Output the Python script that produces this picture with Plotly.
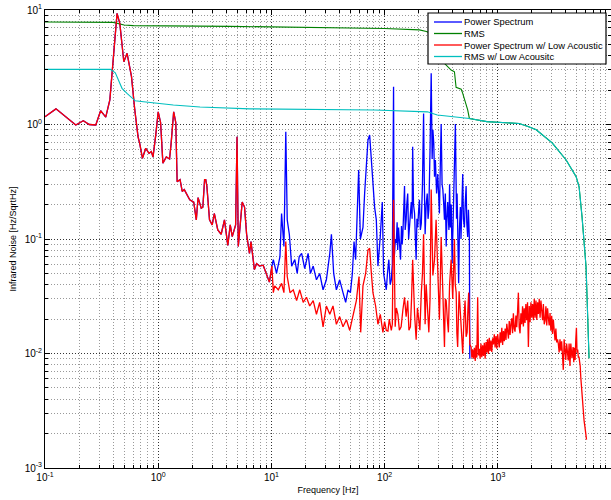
import plotly.graph_objects as go

# ---- data ----
# shared low-frequency part of both spectra (Hz, Hz/sqrtHz)
f_low = [0.1, 0.125, 0.187, 0.218, 0.246, 0.281, 0.31, 0.344, 0.374, 0.395, 0.433, 0.458,
         0.497, 0.531, 0.581, 0.621, 0.664, 0.687, 0.726, 0.776, 0.83, 0.87, 0.9, 0.95, 1.0,
         1.05, 1.10, 1.18, 1.26, 1.30, 1.37, 1.43, 1.47, 1.56, 1.63, 1.70, 1.77, 1.90, 2.06,
         2.17, 2.25, 2.40, 2.48, 2.57, 2.63, 2.69, 2.84, 3.0, 3.13, 3.36, 3.6, 3.85, 4.12,
         4.33, 4.51, 4.83, 4.97, 5.1, 5.52, 5.79, 6.04, 6.4, 6.6, 7.08, 7.4, 7.85, 8.46, 8.97,
         9.6, 10.1]
v_low = [1.17, 1.37, 0.99, 1.08, 1.0, 0.99, 1.32, 1.16, 1.64, 3.0, 9.35, 7.65,
         3.53, 4.19, 2.62, 1.34, 0.78, 0.68, 0.507, 0.62, 0.56, 0.58, 0.52, 0.8, 1.29,
         1.04, 0.46, 0.52, 0.5, 0.68, 1.29, 1.04, 0.316, 0.33, 0.26, 0.27, 0.25, 0.22, 0.21,
         0.147, 0.23, 0.186, 0.19, 0.33, 0.33, 0.29, 0.147, 0.133, 0.167, 0.12, 0.11, 0.147, 0.088,
         0.133, 0.105, 0.133, 0.78, 0.086, 0.21, 0.19, 0.11, 0.075, 0.095, 0.054, 0.061, 0.058, 0.059, 0.05,
         0.042, 0.058]

# Power Spectrum above 10 Hz
f_blue = [10.4, 11.1, 11.9, 12.3, 12.9, 13.1, 13.4, 13.8, 14.4, 15.1, 16.1, 16.9, 17.6, 18.5,
          19.7, 21.1, 22.1, 23.4, 25.0, 26.7, 28.6, 30.6, 32.8, 33.9, 35.5, 37.5, 40.1, 42.9,
          45.3, 47.5, 49.9, 51.9, 53.7, 55.5, 57.4, 59.0, 61.1, 64.4, 66.6, 69.0, 71.3, 73.8,
          76.4, 78.9, 81.6, 84.5, 87.3, 91.6, 95.4, 98.0,
          103.5, 106, 109, 112, 114.6, 117, 120, 121.5, 122.5, 124.5, 126.8, 129, 130.5, 132.8,
          135, 138.3, 141, 143, 145, 147, 150, 152, 155, 157, 160, 163, 166, 169, 172, 175, 177,
          180, 184, 187, 190, 193, 196, 200, 203, 207, 211, 216, 221, 224, 228, 233, 238, 242,
          246, 252, 258, 263, 267, 272, 276, 281, 288, 295, 300, 305, 310, 316, 322, 327, 333,
          338, 344, 350, 355, 361, 370, 375, 381, 388, 395, 401, 408, 415, 422, 428, 432, 437,
          444, 451, 458, 467, 473, 480, 490, 497, 507, 515, 525, 532, 542, 550, 561, 566]
v_blue = [0.066, 0.05, 0.07, 0.167, 0.086, 0.21, 0.865, 0.147, 0.11, 0.058, 0.066, 0.05, 0.07, 0.075,
          0.055, 0.075, 0.05, 0.058, 0.044, 0.05, 0.036, 0.044, 0.075, 0.11, 0.05, 0.036, 0.044, 0.034,
          0.028, 0.036, 0.034, 0.05, 0.095, 0.066, 0.155, 0.4, 0.1, 0.126, 0.25, 0.49, 0.73, 0.81,
          0.49, 0.29, 0.19, 0.147, 0.058, 0.105, 0.21, 0.05,
          0.036, 0.05, 0.066, 0.04, 0.044, 0.06, 2.14, 0.07, 0.075, 0.1, 0.092, 0.14, 0.08, 0.126,
          0.09, 0.066, 0.13, 0.09, 0.11, 0.2, 0.29, 0.12, 0.147, 0.2, 0.25, 0.1, 0.126, 0.19, 0.21, 0.15, 0.64,
          0.2, 0.167, 0.1, 0.066, 0.15, 0.126, 0.18, 0.22, 0.12, 0.137, 0.3, 1.25, 0.35, 0.11, 0.2, 0.25, 0.15,
          0.18, 0.6, 2.8, 0.5, 0.9, 0.68, 0.35, 0.49, 0.25, 0.37, 0.2, 0.167, 0.4, 1.01, 0.3, 0.27, 0.2,
          0.147, 0.25, 0.086, 0.15, 0.21, 0.12, 0.3, 0.126, 0.2, 0.061, 0.15, 0.25, 0.5, 1.01, 0.3, 0.15, 0.25,
          0.1, 0.041, 0.12, 0.19, 0.1, 0.25, 0.37, 0.15, 0.126, 0.2, 0.29, 0.14, 0.104, 0.18, 0.1, 0.009]

# Power Spectrum w/ Low Acoustic above 10 Hz
f_red = [10.4, 10.7, 11.5, 12.3, 12.9, 13.4, 13.8, 14.6, 15.6, 16.7, 17.8, 19.1, 20.4, 21.8,
         23.4, 25.0, 26.7, 28.6, 30.6, 32.8, 35.0, 37.5, 40.1, 42.9, 46.0, 49.2, 52.6, 56.3,
         59.4, 61.5, 64.4, 68.0, 71.3, 73.8, 76.4, 78.9, 83.3, 87.3, 91.6, 96.6,
         100, 103.5, 107, 110, 114.6, 117, 120, 124, 127, 131, 135, 140, 145, 150, 155, 160,
         164, 169, 173, 177, 184, 190, 195, 199, 205, 211, 216, 221, 228, 233, 238, 246, 252,
         258, 267, 276, 285, 295, 300, 305, 310, 316, 327, 338, 344, 350, 358, 366, 375, 387,
         400, 414, 421, 429, 435, 442, 455, 467, 478, 490, 502, 514, 525, 536, 545, 553, 566,
         581, 590, 600, 610, 621, 632, 642, 653, 664, 675, 687, 698, 710, 722, 735, 747, 760,
         773, 787, 800, 812, 826, 841, 855, 870, 885, 900, 915, 931, 947, 964, 980, 997, 1014,
         1031, 1049, 1066, 1085, 1103, 1122, 1141, 1161, 1181, 1201, 1221, 1242, 1262, 1284,
         1305, 1328, 1350, 1373, 1397, 1420, 1445, 1470, 1495, 1520, 1545, 1572, 1600, 1627,
         1655, 1683, 1711, 1740, 1770, 1800, 1831, 1863, 1895, 1928, 1962, 1996, 2030, 2064,
         2099, 2136, 2173, 2210, 2247, 2285, 2323, 2363, 2404, 2444, 2485, 2528, 2571, 2616,
         2661, 2706, 2751, 2798, 2845, 2894, 2943, 2993, 3043, 3095, 3148, 3203, 3258, 3313,
         3368, 3425, 3483, 3543, 3603, 3664, 3726, 3790, 3855, 3921, 3987, 4055, 4123, 4193,
         4265, 4340, 4416, 4520, 4624, 4690, 4750, 4820, 4885, 4950, 5010, 5080, 5149, 5215,
         5280, 5345, 5408, 5500, 5585, 5680, 5781, 5880, 5984, 6080, 6184, 6290, 6397]
v_red = [0.034, 0.039, 0.036, 0.041, 0.034, 0.095, 0.047, 0.034, 0.036, 0.029, 0.036, 0.028, 0.031, 0.026,
         0.029, 0.022, 0.028, 0.0171, 0.026, 0.022, 0.026, 0.018, 0.021, 0.0171, 0.0197, 0.0159, 0.022, 0.029,
         0.047, 0.0153, 0.039, 0.05, 0.08, 0.083, 0.05, 0.034, 0.026, 0.018, 0.022, 0.0153,
         0.019, 0.0159, 0.0157, 0.02, 0.0159, 0.018, 0.22, 0.0171, 0.025, 0.022, 0.016, 0.0171, 0.024, 0.031, 0.021, 0.029,
         0.016, 0.0171, 0.03, 0.066, 0.022, 0.0132, 0.025, 0.021, 0.016, 0.034, 0.05, 0.11, 0.018, 0.04, 0.029, 0.0153, 0.03,
         0.27, 0.048, 0.066, 0.147, 0.048, 0.025, 0.0197, 0.04, 0.104, 0.034, 0.0114, 0.03, 0.029, 0.02, 0.0153, 0.04, 0.066,
         0.03, 0.1, 0.04, 0.034, 0.015, 0.0114, 0.035, 0.022, 0.012, 0.01, 0.02, 0.029, 0.014, 0.0153, 0.025, 0.034, 0.012,
         0.0114, 0.0092, 0.0108, 0.009, 0.0112, 0.0086, 0.0118, 0.0092, 0.031, 0.0096, 0.011, 0.009, 0.0122, 0.0093, 0.0118, 0.0095, 0.0124,
         0.009, 0.0126, 0.0102, 0.0133, 0.0099, 0.0137, 0.0105, 0.013, 0.0103, 0.0136, 0.012, 0.0147, 0.0113, 0.0142, 0.011, 0.0148,
         0.0127, 0.0113, 0.0153, 0.0124, 0.0168, 0.0119, 0.0157, 0.0128, 0.0165, 0.0131, 0.0182, 0.014, 0.0135, 0.0192,
         0.0145, 0.0181, 0.0203, 0.015, 0.0225, 0.0165, 0.0155, 0.0215, 0.017, 0.0235, 0.034, 0.017, 0.015, 0.0225,
         0.018, 0.0258, 0.0172, 0.0248, 0.0185, 0.027, 0.0195, 0.028, 0.0114, 0.026, 0.0188, 0.028, 0.0205, 0.027,
         0.0195, 0.03, 0.0205, 0.029, 0.0196, 0.028, 0.0222, 0.03, 0.0205, 0.029, 0.0242, 0.0195, 0.027, 0.018,
         0.0195, 0.0258, 0.0176, 0.0248, 0.0204, 0.0176, 0.0226, 0.0158, 0.0213, 0.0148, 0.0198, 0.0148, 0.013, 0.0165,
         0.0125, 0.0133, 0.0122, 0.0102, 0.0133, 0.0106, 0.0128, 0.0097, 0.0072, 0.0133, 0.0102, 0.0088, 0.0122, 0.009,
         0.0087, 0.0122, 0.0078, 0.0122, 0.0091, 0.0114, 0.0084, 0.0112, 0.0088, 0.0132, 0.0168, 0.0102,
         0.0108, 0.0092, 0.0094, 0.0085, 0.0078, 0.0062, 0.0048, 0.0038, 0.003, 0.0026, 0.0023, 0.002, 0.00177]

# RMS curves
f_rms_green = [0.1, 0.4, 0.5, 0.6, 4.31, 17.8, 100, 203, 234, 250, 262, 300, 316, 338, 387, 414, 428,
               475, 490, 542]
v_rms_green = [7.85, 7.8, 7.4, 7.3, 7.2, 7.1, 6.9, 6.7, 6.5, 6.3, 4.5, 4.0, 3.6, 3.42, 2.99, 2.89, 2.11,
               2.03, 1.87, 1.34]
f_rms_cyan = [0.1, 0.378, 0.418, 0.479, 0.53, 0.627, 0.742, 1.36, 2.34, 6.5, 81.6, 239, 292, 542]
v_rms_cyan = [3.03, 3.03, 2.83, 2.07, 1.87, 1.61, 1.58, 1.48, 1.42, 1.37, 1.34, 1.29, 1.21, 1.14]
# shared tail of both RMS curves (identical spectra above ~560 Hz)
f_rms_tail = [561, 800, 1100, 1545, 1850, 2185, 3020, 4015, 4920, 5225, 5550, 6022, 6397]
v_rms_tail = [1.13, 1.06, 1.04, 1.02, 0.96, 0.90, 0.69, 0.49, 0.35, 0.286, 0.156, 0.057, 0.0091]

legend_names = ["Power Spectrum", "RMS", "Power Spectrum w/ Low Acoustic", "RMS w/ Low Acousitc"]
colors = ["#0000FF", "#008000", "#FF0000", "#00BFBF"]

FONT = "Liberation Sans, Arial, Helvetica, sans-serif"

fig = go.Figure()
fig.add_trace(go.Scatter(x=f_low + f_blue, y=v_low + v_blue, mode="lines", name=legend_names[0],
                         line=dict(color=colors[0], width=1.3)))
fig.add_trace(go.Scatter(x=f_rms_green + f_rms_tail, y=v_rms_green + v_rms_tail, mode="lines",
                         name=legend_names[1], line=dict(color=colors[1], width=1.1)))
fig.add_trace(go.Scatter(x=f_low + f_red, y=v_low + v_red, mode="lines", name=legend_names[2],
                         line=dict(color=colors[2], width=1.3)))
fig.add_trace(go.Scatter(x=f_rms_cyan + f_rms_tail, y=v_rms_cyan + v_rms_tail, mode="lines",
                         name=legend_names[3], line=dict(color=colors[3], width=1.1)))

x_tick_vals = [0.1, 1, 10, 100, 1000, 10000]
x_tick_text = ["10<sup>-1</sup>", "10<sup>0</sup>", "10<sup>1</sup>", "10<sup>2</sup>",
               "10<sup>3</sup>", "10<sup>4</sup>"]
y_tick_vals = [0.001, 0.01, 0.1, 1, 10]
y_tick_text = ["10<sup>-3</sup>", "10<sup>-2</sup>", "10<sup>-1</sup>", "10<sup>0</sup>", "10<sup>1</sup>"]

axis_common = dict(
    type="log", showline=True, linecolor="black", linewidth=1, mirror="allticks",
    ticks="inside", ticklen=5, tickcolor="black", tickwidth=1,
    showgrid=True, gridcolor="#333333", griddash="1px,2px", gridwidth=1,
    zeroline=False, tickfont=dict(family=FONT, size=10, color="black"),
    minor=dict(ticks="inside", ticklen=3, tickcolor="black", dtick="D1",
               showgrid=True, gridcolor="#999999", griddash="1px,2px", gridwidth=1),
)

fig.update_xaxes(range=[-1, 4], tickmode="array", tickvals=x_tick_vals, ticktext=x_tick_text,
                 title=dict(text="Frequency [Hz]", font=dict(family=FONT, size=9, color="black"),
                            standoff=4),
                 **axis_common)
fig.update_yaxes(range=[-3, 1], tickmode="array", tickvals=y_tick_vals, ticktext=y_tick_text,
                 title=dict(text="Infrared Noise [Hz/SqrtHz]", font=dict(family=FONT, size=9, color="black"),
                            standoff=6),
                 **axis_common)

# ---- legend drawn as shapes + text (compact MATLAB-style box) ----
PL, PW, PT, PH = 45.0, 566.0, 10.0, 458.0   # plot area in pixels
def px_x(p):
    return (p - PL) / PW
def px_y(p):
    return 1 - (p - PT) / PH

shapes = [dict(type="rect", xref="paper", yref="paper", layer="above",
               x0=px_x(428), x1=px_x(606), y0=px_y(64), y1=px_y(13),
               fillcolor="white", line=dict(color="black", width=1.2))]
annotations = []
row_y = [22, 33.5, 45, 56.5]
for name, col, ry in zip(legend_names, colors, row_y):
    shapes.append(dict(type="line", xref="paper", yref="paper", layer="above",
                       x0=px_x(434), x1=px_x(462), y0=px_y(ry), y1=px_y(ry),
                       line=dict(color=col, width=1.3)))
    annotations.append(dict(text=name, xref="paper", yref="paper", x=px_x(463), y=px_y(ry),
                            xanchor="left", yanchor="middle", showarrow=False, borderpad=0,
                            font=dict(family=FONT, size=9.4, color="black")))

fig.update_layout(
    width=611, height=500,
    margin=dict(l=45, r=0, t=10, b=32),
    paper_bgcolor="white", plot_bgcolor="white",
    font=dict(family=FONT, size=10, color="black"),
    showlegend=False,
    shapes=shapes, annotations=annotations,
)

fig.write_html("out.html")
